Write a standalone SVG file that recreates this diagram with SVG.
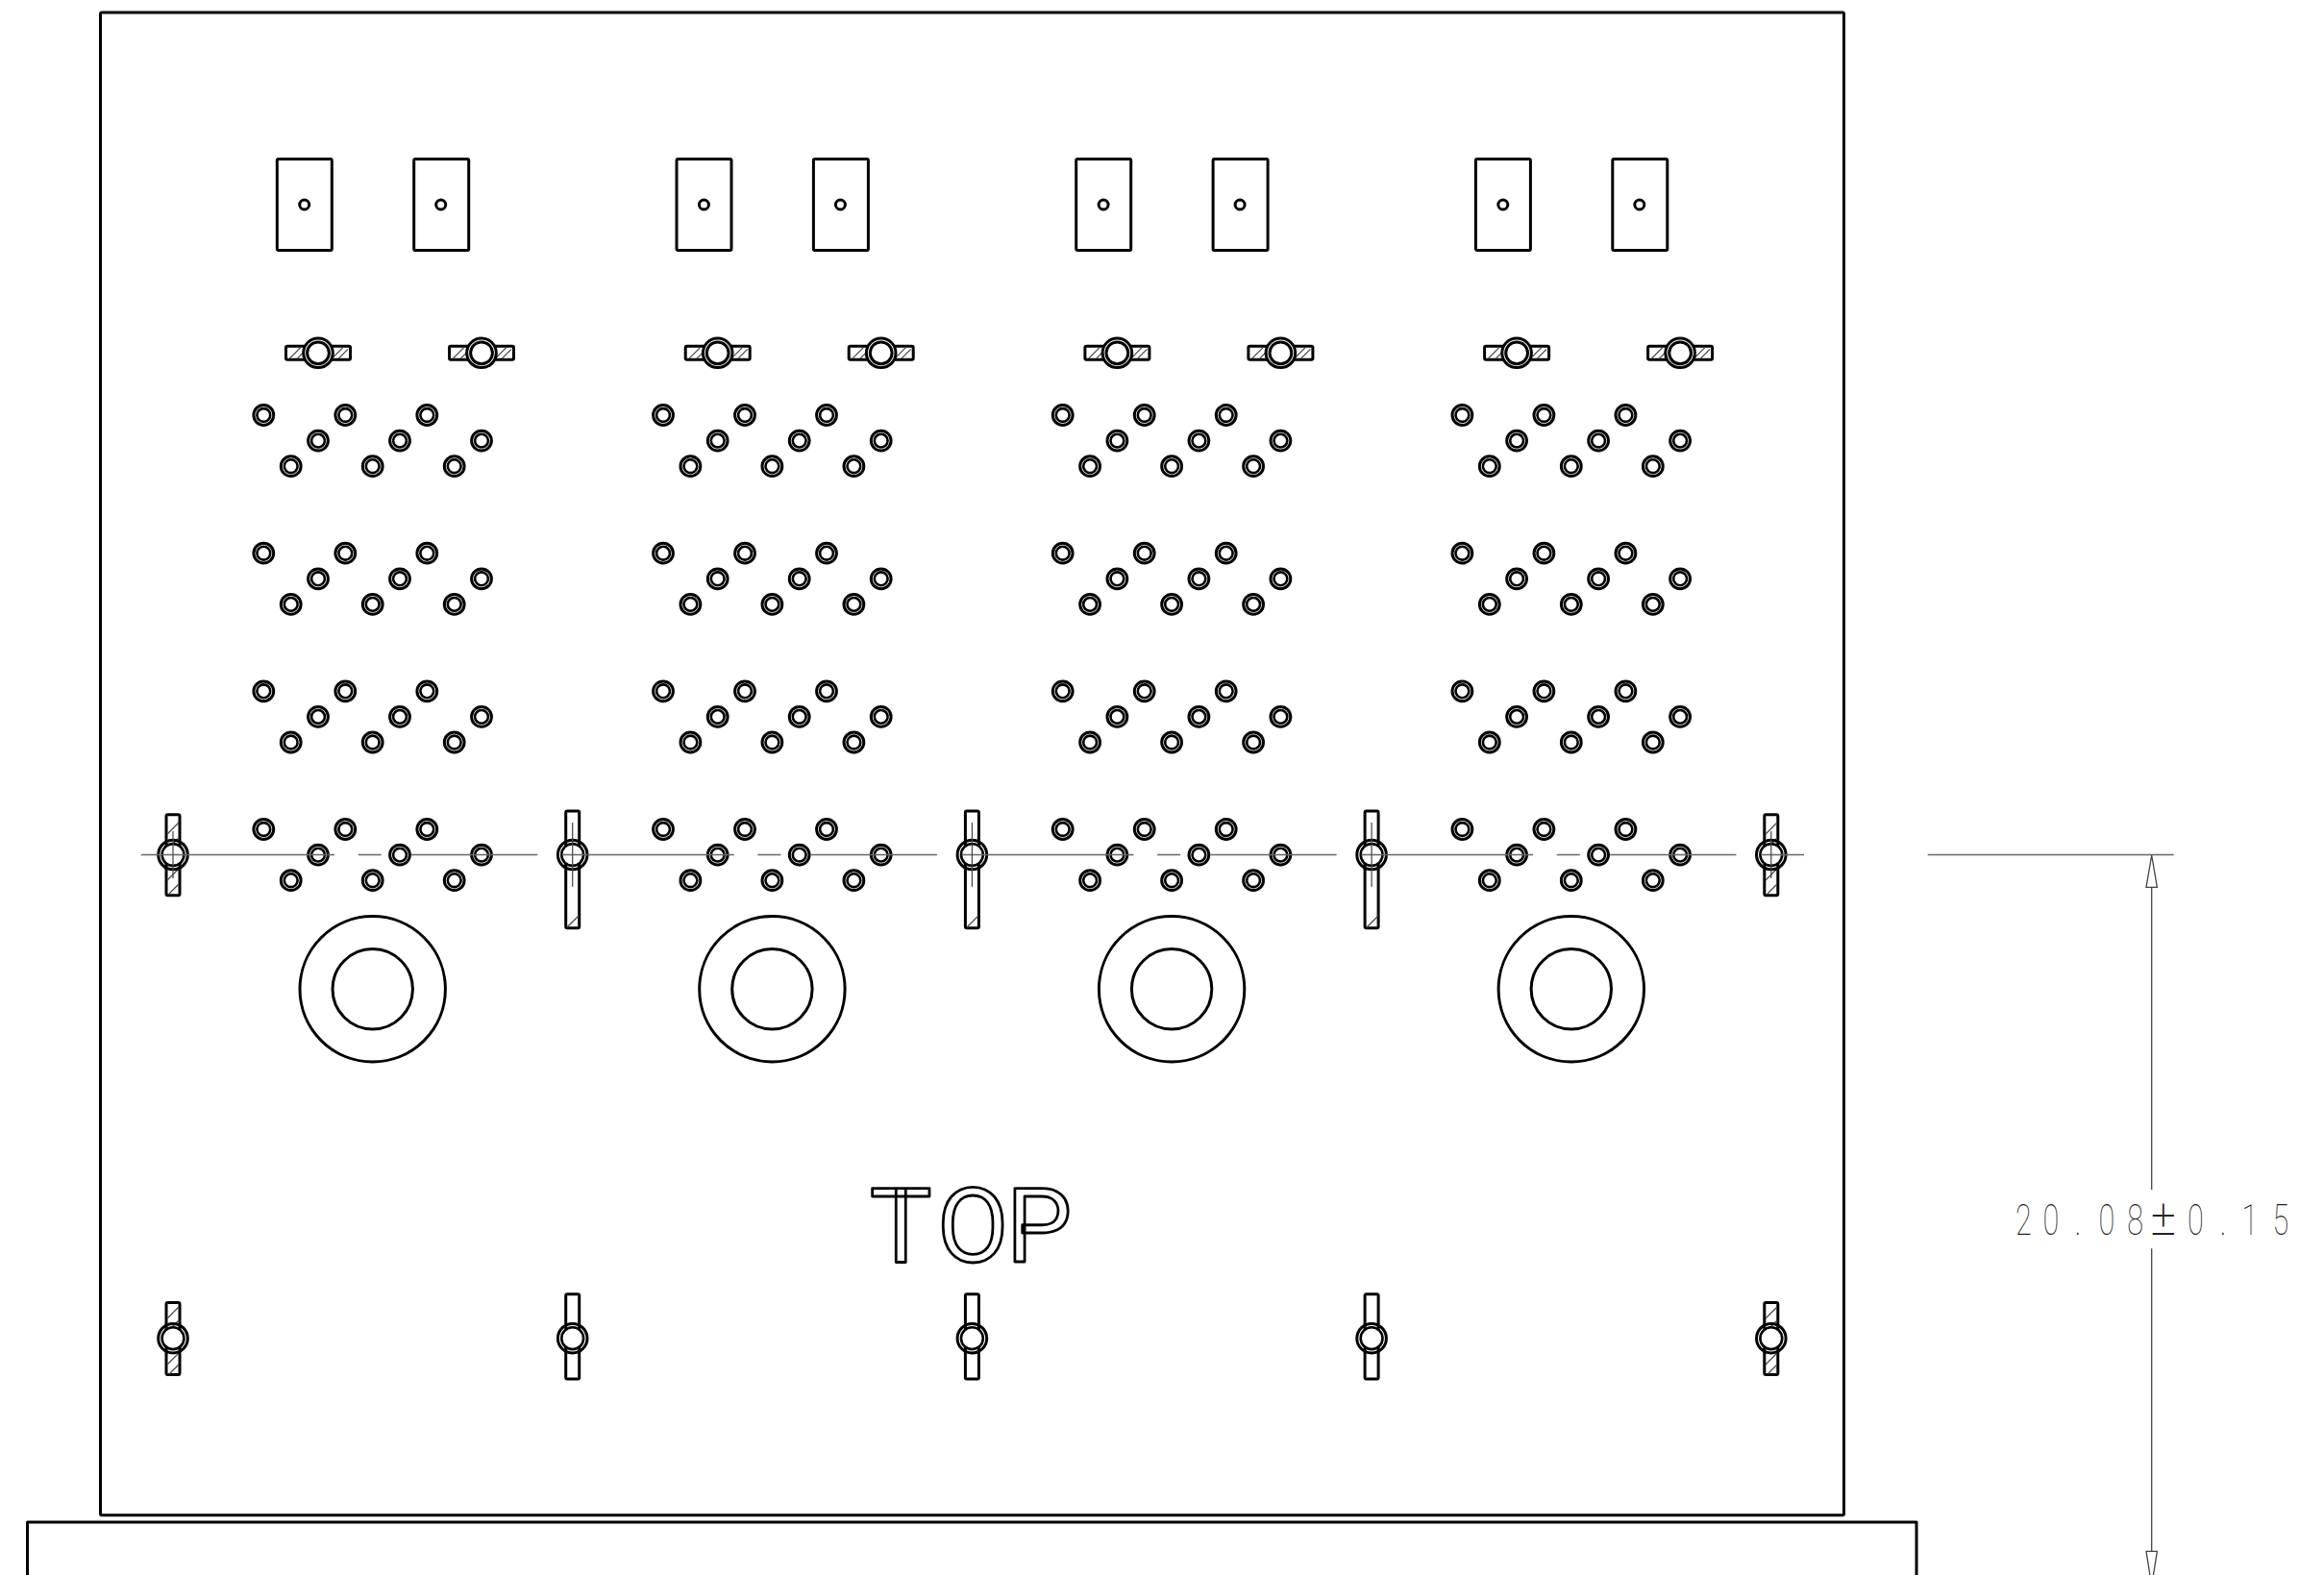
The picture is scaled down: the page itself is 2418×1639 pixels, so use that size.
<svg xmlns="http://www.w3.org/2000/svg" xmlns:xlink="http://www.w3.org/1999/xlink" width="2418" height="1639" viewBox="0 0 2418 1639">
<style>
.o{fill:none;stroke:#000;stroke-width:3;stroke-linejoin:round}
.w{fill:#fff;stroke:#000;stroke-width:3}
.h{fill:none;stroke:#444;stroke-width:1.2}
.c{fill:none;stroke:#666;stroke-width:1.6}
.d{fill:none;stroke:#444;stroke-width:1.3}
.top{font-family:Roboto,"Liberation Sans",sans-serif;font-size:108px;fill:none;stroke:#000;stroke-width:2.8;stroke-linejoin:round}
.dim{font-family:Roboto,"Liberation Sans",sans-serif;font-weight:100;font-size:45px;fill:#222;text-anchor:middle}
.pm{font-family:"DejaVu Sans",sans-serif;font-weight:200;font-size:52px}
</style>
<defs>
<g id="hole"><circle r="10.4" class="o"/><circle r="6.9" class="o" style="stroke-width:2.6"/></g>
<g id="cluster">
<use xlink:href="#hole" x="0" y="0"/><use xlink:href="#hole" x="85" y="0"/><use xlink:href="#hole" x="170" y="0"/>
<use xlink:href="#hole" x="56.7" y="26.6"/><use xlink:href="#hole" x="141.7" y="26.6"/><use xlink:href="#hole" x="226.7" y="26.6"/>
<use xlink:href="#hole" x="28.4" y="53.2"/><use xlink:href="#hole" x="113.4" y="53.2"/><use xlink:href="#hole" x="198.4" y="53.2"/>
</g>
<g id="wing">
<rect x="-33.5" y="-7" width="67" height="14" rx="1.5" class="o"/>
<path class="h" d="M-30 6L-18 -6M-22 6L-14 -2M14 6L26 -6M21 6L31 -4"/>
<circle r="15.3" class="w"/><circle r="11.4" class="o"/>
</g>
<g id="column">
<rect x="0.6" y="165.5" width="57" height="95" rx="1.5" class="o"/><circle cx="29" cy="213" r="5" class="o"/>
<rect x="143" y="165.5" width="57" height="95" rx="1.5" class="o"/><circle cx="171" cy="213" r="5" class="o"/>
<use xlink:href="#wing" x="43.3" y="367.3"/><use xlink:href="#wing" x="213.3" y="367.3"/>
<use xlink:href="#cluster" x="-13.4" y="432"/><use xlink:href="#cluster" x="-13.4" y="575.7"/><use xlink:href="#cluster" x="-13.4" y="719.3"/><use xlink:href="#cluster" x="-13.4" y="863"/>
<circle cx="100" cy="1029.3" r="75.7" class="o"/><circle cx="100" cy="1029.3" r="41.7" class="o"/>
</g>
<g id="ring"><circle r="15.3" class="o"/><circle r="11.4" class="w" style="stroke-width:2.6"/></g>
</defs>

<g id="frame"><rect x="104.5" y="13" width="1814" height="1563.7" rx="1.5" class="o"/></g>
<g id="base"><path class="o" d="M28.5 1639V1584H1994V1639"/></g>

<g id="column-1"><use xlink:href="#column" x="287.7"/></g>
<g id="column-2"><use xlink:href="#column" x="703.4"/></g>
<g id="column-3"><use xlink:href="#column" x="1119.1"/></g>
<g id="column-4"><use xlink:href="#column" x="1534.8"/></g>

<g id="upper-posts">
<g id="post-u1"><rect x="173" y="847.7" width="14" height="84" rx="1.5" class="o"/><path class="h" d="M174 868L186 856M174 884L186 872M174 916L186 904M176 930L186 920"/><use xlink:href="#ring" x="180" y="889.5"/></g>
<g id="post-u2"><rect x="588.7" y="844" width="14" height="121.7" rx="1.5" class="o"/><path class="h" d="M590 965L602 953"/><use xlink:href="#ring" x="595.7" y="889.5"/></g>
<g id="post-u3"><rect x="1004.4" y="844" width="14" height="121.7" rx="1.5" class="o"/><path class="h" d="M1006 965L1018 953"/><use xlink:href="#ring" x="1011.4" y="889.5"/></g>
<g id="post-u4"><rect x="1420.1" y="844" width="14" height="121.7" rx="1.5" class="o"/><path class="h" d="M1422 965L1434 953"/><use xlink:href="#ring" x="1427.1" y="889.5"/></g>
<g id="post-u5"><rect x="1835.8" y="847.7" width="14" height="84" rx="1.5" class="o"/><path class="h" d="M1837 868L1849 856M1837 884L1849 872M1837 916L1849 904M1839 930L1849 920"/><use xlink:href="#ring" x="1842.8" y="889.5"/></g>
</g>

<g id="lower-posts">
<g id="post-l1"><rect x="173" y="1355.5" width="14" height="75" rx="1.5" class="o"/><path class="h" d="M174 1372L186 1360M174 1386L186 1374M174 1420L186 1408M176 1430L186 1420"/><use xlink:href="#ring" x="180" y="1392.7"/></g>
<g id="post-l2"><rect x="588.7" y="1346.7" width="14" height="88.3" rx="1.5" class="o"/><use xlink:href="#ring" x="595.7" y="1392.7"/></g>
<g id="post-l3"><rect x="1004.4" y="1346.7" width="14" height="88.3" rx="1.5" class="o"/><use xlink:href="#ring" x="1011.4" y="1392.7"/></g>
<g id="post-l4"><rect x="1420.1" y="1346.7" width="14" height="88.3" rx="1.5" class="o"/><use xlink:href="#ring" x="1427.1" y="1392.7"/></g>
<g id="post-l5"><rect x="1835.8" y="1355.5" width="14" height="75" rx="1.5" class="o"/><path class="h" d="M1837 1372L1849 1360M1837 1386L1849 1374M1837 1420L1849 1408M1839 1430L1849 1420"/><use xlink:href="#ring" x="1842.8" y="1392.7"/></g>
</g>

<g id="connectors">
<path class="c" d="M146.7 889.5H348M372.7 889.5H396.7M428 889.5H559.3M585 889.5H763.7M788.4 889.5H812.4M843.7 889.5H975M1000.7 889.5H1179.4M1204.1 889.5H1228.1M1259.4 889.5H1390.7M1416.4 889.5H1595.1M1619.8 889.5H1643.8M1675.1 889.5H1806.4M1832 889.5H1877"/>
<path class="h" d="M180 865V914M595.7 856V922.7M1011.4 856V922.7M1427.1 856V922.7M1842.8 865V914"/>
<path class="c" d="M2005.7 889.5H2261.7"/>
<path class="d" d="M2238.7 923.3V1238M2238.7 1299.3V1614.3"/>
<path class="d" d="M2238.7 890L2233 923.3H2244.4ZM2233 1614.3H2244.4L2238.7 1650Z"/>
</g>

<g id="top-label"><text class="top" y="1313" x="905 975 1047">TOP</text></g>
<g id="dimension-label"><text class="dim" transform="scale(0.68 1)" y="1285" x="3096.3 3138.2 3179.4 3223.5 3267.2 3309.9 3359.3 3401.5 3442.6 3489.7">20.08<tspan class="pm">±</tspan>0.15</text></g>
</svg>
